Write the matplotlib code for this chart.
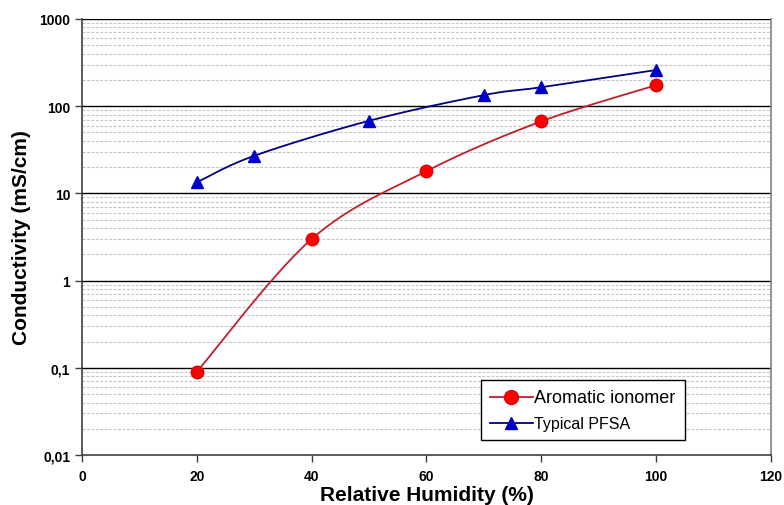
import matplotlib.pyplot as plt
import numpy as np
from matplotlib.path import Path
from matplotlib.lines import Line2D

plt.rcParams['font.family'] = ['Liberation Sans', 'DejaVu Sans']

# data
rh_aromatic = [20, 40, 60, 80, 100]
cond_aromatic = [0.09, 3.0, 18.0, 67.0, 174.0]
rh_pfsa = [20, 30, 50, 70, 80, 100]
cond_pfsa = [13.4, 27.0, 68.0, 134.0, 165.0, 260.0]

x_ticks = [0, 20, 40, 60, 80, 100, 120]
y_ticks = [0.01, 0.1, 1, 10, 100, 1000]
y_tick_labels = ['0,01', '0,1', '1', '10', '100', '1000']


def smooth_path(xs, ys):
    # Excel-like smoothed line: Catmull-Rom bezier in (x, log10 y) space
    px = np.asarray(xs, float)
    py = np.log10(np.asarray(ys, float))
    n = len(px)
    verts = [(px[0], py[0])]
    codes = [Path.MOVETO]
    for i in range(n - 1):
        p0 = (px[max(i - 1, 0)], py[max(i - 1, 0)])
        p1 = (px[i], py[i])
        p2 = (px[i + 1], py[i + 1])
        p3 = (px[min(i + 2, n - 1)], py[min(i + 2, n - 1)])
        c1 = (p1[0] + (p2[0] - p0[0]) / 6, p1[1] + (p2[1] - p0[1]) / 6)
        c2 = (p2[0] - (p3[0] - p1[0]) / 6, p2[1] - (p3[1] - p1[1]) / 6)
        verts += [c1, c2, p2]
        codes += [Path.CURVE4] * 3
    path = Path(verts, codes)
    pts = []
    for seg, code in path.iter_bezier():
        t = np.linspace(0, 1, 30)
        pts.append(seg.point_at_t(t))
    pts = np.vstack(pts)
    return pts[:, 0], 10 ** pts[:, 1]


fig = plt.figure(figsize=(7.84, 5.06), dpi=100)
ax = fig.add_axes([0.1046, 0.0988, 0.8788, 0.8617])
ax.set_yscale('log')
ax.set_xlim(0, 120)
ax.set_ylim(0.01, 1000)

# gridlines
for d in [0.01, 0.1, 1, 10, 100]:
    for k in range(2, 10):
        ax.axhline(d * k, color='#c4c4c4', lw=0.8, ls=(0, (2.5, 1.5)), zorder=1)
for y in [0.1, 1, 10, 100, 1000]:
    ax.axhline(y, color='black', lw=1.0, zorder=2)

# series
sx, sy = smooth_path(rh_aromatic, cond_aromatic)
ax.plot(sx, sy, color='#c0202a', lw=1.3, zorder=3)
ax.plot(rh_aromatic, cond_aromatic, ls='none', marker='o', ms=9,
        color='#ff0000', mec='#e00000', zorder=4, clip_on=False)
sx, sy = smooth_path(rh_pfsa, cond_pfsa)
ax.plot(sx, sy, color='#000080', lw=1.3, zorder=3)
ax.plot(rh_pfsa, cond_pfsa, ls='none', marker='^', ms=9,
        color='#0000cc', mec='#0000cc', zorder=4, clip_on=False)

# axes styling
ax.spines['top'].set_visible(False)
ax.spines['right'].set_color('#808080')
ax.spines['right'].set_linewidth(1.2)
ax.spines['left'].set_color('#404040')
ax.spines['bottom'].set_color('#404040')
ax.spines['left'].set_linewidth(1.2)
ax.spines['bottom'].set_linewidth(1.2)

ax.set_xticks(x_ticks)
ax.set_xticklabels([str(v) for v in x_ticks])
ax.set_yticks(y_ticks)
ax.set_yticklabels(y_tick_labels)
ax.minorticks_off()
ax.tick_params(axis='both', direction='out', length=5, width=1.0,
               color='#404040', labelsize=10)
ax.tick_params(axis='x', pad=5)
for lab in ax.get_xticklabels() + ax.get_yticklabels():
    lab.set_fontweight('bold')

ax.set_xlabel('Relative Humidity (%)', fontsize=15, fontweight='bold', labelpad=1.5)
ax.set_ylabel('Conductivity (mS/cm)', fontsize=15, fontweight='bold', labelpad=6)

handles = [
    Line2D([], [], color='#c0202a', lw=1.3, marker='o', ms=10,
           mfc='#ff0000', mec='#e00000'),
    Line2D([], [], color='#000080', lw=1.3, marker='^', ms=9,
           mfc='#0000cc', mec='#0000cc'),
]
leg = ax.legend(handles, ['Aromatic ionomer', 'Typical PFSA'],
                loc='lower left', bbox_to_anchor=(0.579, 0.034),
                frameon=True, fancybox=False, edgecolor='black',
                handlelength=3.1, handletextpad=0.1, borderpad=0.65,
                labelspacing=0.75, framealpha=1, borderaxespad=0)
leg.get_frame().set_linewidth(1.0)
leg.get_texts()[0].set_fontsize(13)
leg.get_texts()[1].set_fontsize(11.5)

fig.savefig('out.png', dpi=100)
